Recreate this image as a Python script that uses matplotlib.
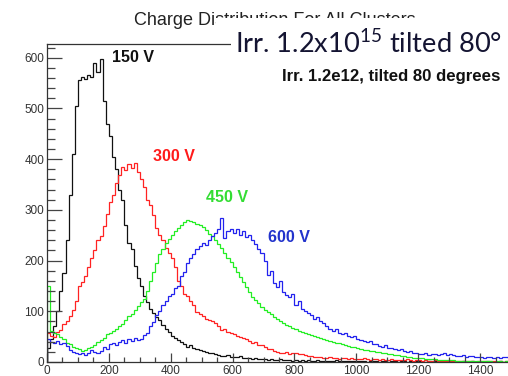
import numpy as np
import matplotlib
matplotlib.use("Agg")
import matplotlib.pyplot as plt
from matplotlib.patches import Rectangle
from matplotlib.ticker import MultipleLocator

# Histogrammer, bin-bredde 10, fra 0 til 1500
edges = np.arange(0, 1501, 10)

v150 = [28, 45, 70, 100, 140, 175, 240, 330, 410, 505,
        556, 562, 558, 566, 562, 590, 572, 597, 515, 470,
        445, 405, 380, 340, 320, 270, 235, 222, 190, 165,
        150, 130, 118, 105, 97, 88, 82, 72, 66, 60,
        52, 48, 43, 40, 35, 30, 33, 27, 25, 24,
        22, 20, 18, 17, 15, 14, 12, 11, 13, 10,
        10, 9, 11, 8, 7, 8, 6, 7, 5, 6,
        5, 4, 6, 4, 3, 5, 3, 4, 3, 2,
        3, 2, 4, 2, 3, 2, 1, 3, 2, 1,
        2, 1, 2, 3, 1, 2, 1, 1, 2, 1,
        1, 2, 1, 0, 1, 2, 1, 0, 1, 1,
        0, 1, 1, 0, 2, 1, 0, 1, 0, 1,
        1, 0, 0, 1, 0, 1, 0, 0, 1, 0,
        0, 1, 0, 0, 1, 0, 0, 1, 0, 0,
        0, 0, 1, 0, 0, 0, 1, 0, 0, 0]

v300 = [58, 52, 50, 60, 64, 75, 80, 90, 102, 120,
        150, 158, 170, 188, 205, 220, 240, 248, 268, 292,
        315, 330, 352, 368, 385, 378, 390, 382, 393, 375,
        360, 345, 320, 310, 290, 265, 250, 240, 225, 215,
        205, 188, 160, 150, 135, 130, 120, 112, 98, 95,
        90, 85, 82, 80, 76, 70, 64, 66, 60, 58,
        56, 52, 50, 48, 45, 42, 38, 40, 34, 33,
        30, 26, 25, 22, 20, 18, 17, 19, 16, 17,
        17, 15, 16, 14, 12, 11, 10, 9, 10, 8,
        8, 9, 7, 8, 6, 8, 7, 6, 7, 5,
        6, 5, 7, 5, 4, 6, 5, 4, 5, 4,
        4, 5, 3, 4, 4, 3, 5, 3, 2, 3,
        3, 2, 3, 2, 2, 3, 1, 2, 2, 1,
        2, 1, 2, 1, 1, 2, 1, 1, 0, 1,
        1, 1, 0, 1, 1, 0, 1, 0, 1, 0]

v450 = [150, 62, 58, 55, 50, 45, 38, 35, 30, 28,
        25, 22, 24, 28, 30, 34, 40, 44, 48, 55,
        58, 62, 66, 70, 75, 82, 90, 95, 102, 110,
        118, 125, 140, 160, 178, 195, 212, 222, 234, 242,
        250, 258, 265, 270, 276, 280, 278, 276, 273, 270,
        266, 260, 252, 248, 240, 233, 225, 215, 205, 198,
        188, 178, 168, 158, 148, 138, 128, 122, 116, 108,
        102, 98, 94, 88, 84, 80, 76, 73, 70, 67,
        65, 62, 60, 58, 55, 53, 51, 49, 47, 45,
        43, 41, 40, 38, 37, 35, 33, 32, 30, 29,
        27, 26, 24, 23, 22, 21, 20, 19, 18, 17,
        16, 15, 14, 13, 12, 11, 10, 9, 8, 8,
        7, 7, 6, 6, 5, 5, 4, 4, 3, 3,
        3, 3, 2, 2, 2, 2, 1, 2, 1, 1,
        1, 1, 1, 1, 0, 1, 1, 0, 1, 0]

v600 = [45, 40, 38, 42, 36, 38, 32, 24, 20, 17,
        15, 18, 14, 17, 24, 19, 17, 22, 30, 25,
        35, 38, 33, 40, 43, 38, 45, 42, 48, 44,
        45, 53, 58, 70, 78, 92, 100, 112, 120, 130,
        135, 145, 150, 170, 178, 195, 205, 212, 222, 228,
        235, 230, 241, 248, 254, 262, 284, 245, 258, 262,
        255, 262, 250, 258, 247, 250, 240, 232, 222, 215,
        200, 172, 180, 155, 148, 160, 138, 132, 128, 135,
        112, 120, 104, 100, 96, 92, 85, 88, 80, 76,
        70, 65, 62, 66, 57, 55, 58, 52, 50, 52,
        46, 44, 42, 40, 42, 36, 35, 32, 30, 33,
        28, 27, 25, 24, 26, 22, 20, 21, 18, 17,
        16, 15, 17, 14, 15, 16, 13, 15, 17, 14,
        16, 13, 12, 11, 14, 10, 11, 12, 9, 10,
        9, 8, 10, 9, 7, 9, 8, 10, 9, 8]

fig = plt.figure(figsize=(5.08, 3.76), dpi=100)
ax = fig.add_axes([47 / 508, 14 / 376, 464 / 508, 318 / 376])

ax.stairs(v150, edges, color="#111111", lw=0.9)
ax.stairs(v300, edges, color="#ff2222", lw=0.9)
ax.stairs(v450, edges, color="#22ee22", lw=0.9)
ax.stairs(v600, edges, color="#2222ee", lw=0.9)

ax.set_xlim(0, 1500)
ax.set_ylim(0, 627)

# ROOT-lignende akser
ax.spines["right"].set_visible(False)
for s in ["left", "bottom", "top"]:
    ax.spines[s].set_color("#333333")
    ax.spines[s].set_linewidth(0.9)
ax.xaxis.set_major_locator(MultipleLocator(200))
ax.xaxis.set_minor_locator(MultipleLocator(50))
ax.yaxis.set_major_locator(MultipleLocator(100))
ax.yaxis.set_minor_locator(MultipleLocator(20))
ax.tick_params(axis="both", which="both", direction="in", colors="#444444",
               labelcolor="#333333", labelsize=8.5, width=0.9)
ax.tick_params(axis="x", which="major", length=6.5, pad=2)
ax.tick_params(axis="x", which="minor", length=3.5)
ax.tick_params(axis="y", which="major", length=10.5, pad=2)
ax.tick_params(axis="y", which="minor", length=5.5)
ax.tick_params(top=False, right=False, which="both")
for lab in ax.get_xticklabels() + ax.get_yticklabels():
    lab.set_family("Liberation Sans")

# Spenningsetiketter
lab_kw = dict(fontsize=11.5, fontweight="bold", family="Liberation Sans", va="center")
ax.text(210, 601, "150 V", color="#111111", **lab_kw)
ax.text(343, 406, "300 V", color="#ff1a1a", **lab_kw)
ax.text(515, 325, "450 V", color="#33dd33", **lab_kw)
ax.text(715, 245, "600 V", color="#2233cc", **lab_kw)

# Tittel, delvis dekket av innlimt tekstboks
fig.text(274.5 / 508, 1 - 25 / 376, "Charge Distribution For All Clusters",
         ha="center", va="baseline", fontsize=13, family="Liberation Sans",
         color="#222222")
fig.patches.append(Rectangle((216 / 508, 1 - 40 / 376), 292 / 508, 22 / 376,
                             transform=fig.transFigure, facecolor="white",
                             edgecolor="none", zorder=5))
fig.patches.append(Rectangle((231 / 508, 1 - 60 / 376), 277 / 508, 20 / 376,
                             transform=fig.transFigure, facecolor="white",
                             edgecolor="none", zorder=5))

plt.rcParams["mathtext.default"] = "regular"
fig.text(235 / 508, 1 - 53 / 376, r"Irr. 1.2x10$^{15}$ tilted 80°",
         ha="left", va="baseline", fontsize=19.6, family="Lato",
         color="#141432", zorder=10)
fig.text(282 / 508, 1 - 81 / 376, "Irr. 1.2e12, tilted 80 degrees",
         ha="left", va="baseline", fontsize=12.1, fontweight="bold",
         family="Liberation Sans", color="#111111", zorder=10)

fig.savefig("out.png", dpi=100)
